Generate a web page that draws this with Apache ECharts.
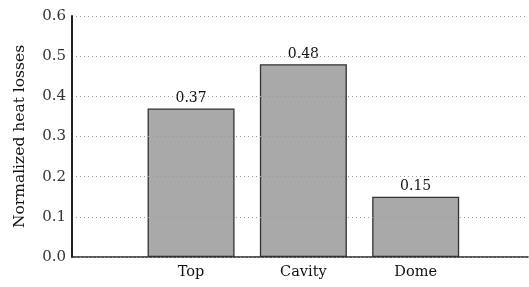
<!DOCTYPE html>
<html><head><meta charset="utf-8">
<script src="https://cdn.jsdelivr.net/npm/echarts@6/dist/echarts.min.js"></script>
<style>html,body{margin:0;padding:0;background:#fff}#c{width:529px;height:287px}</style>
</head><body><div id="c"></div>
<script>
const categories = ['Top', 'Cavity', 'Dome'];
const positions = [1, 2, 3];
const values = [0.37, 0.48, 0.15];
const yTicks = [0.0, 0.1, 0.2, 0.3, 0.4, 0.5, 0.6];

const font = 'DejaVu Serif';
const chart = echarts.init(document.getElementById('c'), null, {renderer: 'canvas'});
chart.setOption({
  animation: false,
  grid: {left: 72, right: 1, top: 16, bottom: 30, containLabel: false, outerBoundsMode: 'none'},
  xAxis: {
    type: 'value', min: -0.06, max: 4,
    axisLine: {show: true, onZero: false, lineStyle: {color: '#222', width: 1.5}},
    axisTick: {show: true, inside: true, length: 3, customValues: positions, lineStyle: {color: '#555'}},
    axisLabel: {customValues: positions, formatter: v => categories[positions.indexOf(Math.round(v))] || '',
      fontFamily: font, fontSize: 14.5, color: '#111', margin: 8},
    splitLine: {show: false}
  },
  yAxis: {
    type: 'value', min: 0, max: 0.6, interval: 0.1, z: 5,
    name: 'Normalized heat losses', nameLocation: 'middle', nameGap: 44,
    nameTextStyle: {fontFamily: font, fontSize: 15.5, color: '#111'},
    axisLine: {show: true, onZero: false, lineStyle: {color: '#222', width: 2}},
    axisTick: {show: false},
    axisLabel: {formatter: v => v.toFixed(1), fontFamily: font, fontSize: 15, color: '#333', margin: 6},
    splitLine: {show: true, lineStyle: {type: [1, 3], color: '#999', width: 1}}
  },
  series: [{
    type: 'bar', barWidth: 87,
    data: positions.map((p, i) => [p, values[i]]),
    itemStyle: {color: '#a9a9a9', borderColor: '#333', borderWidth: 1.3},
    label: {show: true, position: 'top', distance: 3, formatter: p => values[p.dataIndex].toFixed(2),
      fontFamily: font, fontSize: 14, color: '#111'}
  }]
});
</script></body></html>
